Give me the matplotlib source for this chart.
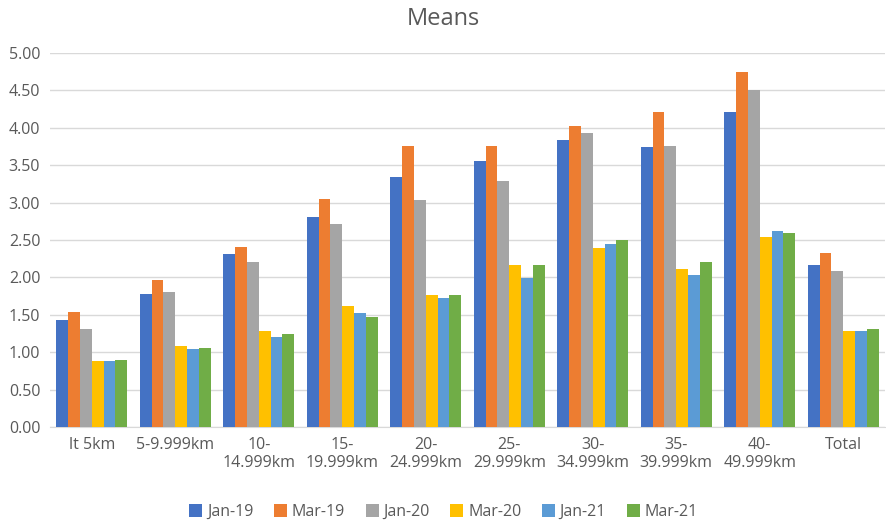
import matplotlib
matplotlib.use("Agg")
import matplotlib.pyplot as plt
import numpy as np

categories = ["lt 5km", "5-9.999km", "10-\n14.999km", "15-\n19.999km", "20-\n24.999km",
              "25-\n29.999km", "30-\n34.999km", "35-\n39.999km", "40-\n49.999km", "Total"]
series_names = ["Jan-19", "Mar-19", "Jan-20", "Mar-20", "Jan-21", "Mar-21"]
jan19 = [1.43, 1.78, 2.31, 2.81, 3.34, 3.55, 3.84, 3.75, 4.21, 2.16]
mar19 = [1.54, 1.96, 2.40, 3.05, 3.76, 3.76, 4.02, 4.21, 4.74, 2.33]
jan20 = [1.31, 1.80, 2.20, 2.71, 3.04, 3.29, 3.93, 3.76, 4.50, 2.09]
mar20 = [0.88, 1.08, 1.28, 1.62, 1.76, 2.16, 2.39, 2.11, 2.54, 1.29]
jan21 = [0.88, 1.04, 1.20, 1.52, 1.73, 1.99, 2.45, 2.03, 2.62, 1.29]
mar21 = [0.90, 1.06, 1.24, 1.47, 1.76, 2.16, 2.50, 2.20, 2.60, 1.31]
series = [jan19, mar19, jan20, mar20, jan21, mar21]
colors = ["#4472C4", "#ED7D31", "#A5A5A5", "#FFC000", "#5B9BD5", "#70AD47"]

plt.rcParams['font.family'] = ['Open Sans', 'DejaVu Sans']
txt = "#595959"
fs = 11.5

fig = plt.figure(figsize=(8.87, 5.24), dpi=100)
ax = fig.add_axes([50/887, 1-427/524, 835/887, (427-53)/524])

n = len(series)
x = np.arange(len(categories))
group_w = 0.85
bw = group_w / n
for i, (vals, c, name) in enumerate(zip(series, colors, series_names)):
    ax.bar(x - group_w/2 + bw*(i+0.5), vals, width=bw, color=c, label=name, zorder=3)

ax.set_xlim(-0.5, len(categories)-0.5)
ax.set_ylim(0, 5)
ax.set_yticks(np.arange(0, 5.01, 0.5))
ax.set_yticklabels([f"{v:.2f}" for v in np.arange(0, 5.01, 0.5)], color=txt, fontsize=fs)
ax.set_xticks(x)
ax.set_xticklabels(categories, color=txt, fontsize=fs, linespacing=1.15)
ax.tick_params(axis='both', length=0)
ax.tick_params(axis='x', pad=7)
ax.tick_params(axis='y', pad=7)
ax.grid(axis='y', color="#D9D9D9", linewidth=1, zorder=0)
for s in ["top", "right", "left"]:
    ax.spines[s].set_visible(False)
ax.spines["bottom"].set_color("#D9D9D9")

fig.text(0.5, 1-19/524, "Means", ha='center', va='center', fontsize=17, color=txt)

leg = fig.legend(loc='center', bbox_to_anchor=(0.5, 1-512/524), ncol=6, frameon=False,
                 fontsize=fs, handlelength=0.8, handleheight=0.8, handletextpad=0.3,
                 columnspacing=1.3)
for t in leg.get_texts():
    t.set_color(txt)

fig.savefig("out.png", dpi=100)
